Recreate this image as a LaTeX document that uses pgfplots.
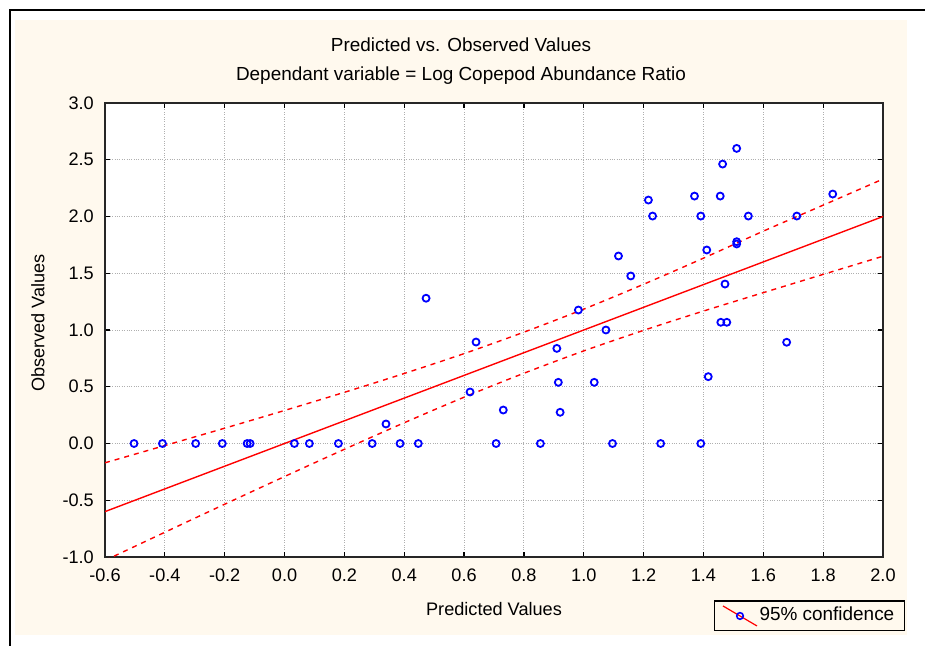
\documentclass[border=0pt]{standalone}
\usepackage{fontspec}
\setmainfont{Liberation Sans}
\usepackage{pgfplots}
\pgfplotsset{compat=1.18}
\definecolor{cream}{RGB}{255,249,238}
\definecolor{gridgray}{RGB}{175,175,175}

\begin{document}
\fontsize{18.2}{22}\selectfont
\begin{tikzpicture}
\path[use as bounding box] (0bp,0bp) rectangle (925bp,-646bp);
\fill[white] (0bp,0bp) rectangle (925bp,-646bp);
\fill[cream] (15bp,-20bp) rectangle (907bp,-635bp);
\draw[line width=2bp] (10bp,-646bp) -- (10bp,-10bp) -- (925bp,-10bp);
\node[font=\fontsize{19}{22}\selectfont] at (461bp,-45bp) {Predicted vs. Observed Values};
\node[font=\fontsize{19}{22}\selectfont] at (461bp,-76bp) {Dependant variable = Log Copepod Abundance Ratio};

\begin{axis}[
  at={(105bp,-557bp)}, anchor=south west,
  scale only axis, width=778bp, height=454bp,
  xmin=-0.6, xmax=2.0, ymin=-1, ymax=3,
  xtick={-0.6,-0.4,-0.2,0,0.2,0.4,0.6,0.8,1.0,1.2,1.4,1.6,1.8,2.0},
  ytick={-1,-0.5,0,0.5,1,1.5,2,2.5,3},
  tick align=inside, tick pos=both, major tick length=5bp,
  grid=major,
  major grid style={gridgray, dotted, line width=0.9bp},
  axis line style={black!85, line width=1.5bp},
  tick style={black, line width=1.2bp},
  axis background/.style={fill=white},
  /pgf/number format/.cd, fixed, fixed zerofill, precision=1, assume math mode=true,
  /pgfplots/.cd,
  xticklabel style={yshift=-6bp},
  yticklabel style={xshift=-5bp},
  xlabel={Predicted Values},
  ylabel={Observed Values},
  xlabel style={at={(axis description cs:0.5,-0.1145)}, anchor=center},
  ylabel style={at={(axis description cs:-0.0861,0.5154)}, anchor=center},
  legend style={at={(1.0283,-0.0947)}, anchor=north east, draw=black, line width=1.5bp,
    fill=cream, inner xsep=8bp, inner ysep=4bp, legend cell align=left,
    font=\fontsize{19}{22}\selectfont},
]
% regression line
\addplot[red, line width=1.4bp, forget plot] coordinates {(-0.6,-0.6) (2.0,2.0)};
% 95% confidence band, upper
\addplot[red, line width=1.4bp, dash pattern=on 5bp off 5bp, smooth, forget plot] coordinates {
(-0.6,-0.170) (-0.4,-0.018) (-0.2,0.135) (0.0,0.291) (0.2,0.451) (0.4,0.617)
(0.6,0.792) (0.8,0.981) (1.0,1.184) (1.2,1.403) (1.4,1.633) (1.6,1.871)
(1.8,2.100) (2.0,2.330)
};
% 95% confidence band, lower
\addplot[red, line width=1.4bp, dash pattern=on 5bp off 5bp, smooth, forget plot] coordinates {
(-0.6,-1.030) (-0.4,-0.782) (-0.2,-0.535) (0.0,-0.291) (0.2,-0.051) (0.4,0.183)
(0.6,0.408) (0.8,0.619) (1.0,0.816) (1.2,0.997) (1.4,1.167) (1.6,1.329)
(1.8,1.490) (2.0,1.650)
};
% observations
\addplot[only marks, mark=o, mark size=3.5bp, blue, mark options={line width=1.8bp, solid},
  legend image code/.code={
    \draw[red, line width=1.2bp] (0bp,9bp) -- (34bp,-11bp);
    \draw[blue, line width=1.6bp] (17bp,-1bp) circle (3.3bp);
  }] coordinates {
(-0.503,0) (-0.408,0) (-0.297,0) (-0.208,0) (-0.125,0) (-0.115,0)
(0.033,0) (0.083,0) (0.180,0) (0.293,0) (0.386,0) (0.447,0)
(0.707,0) (0.855,0) (1.096,0) (1.257,0) (1.391,0)
(0.339,0.172) (0.473,1.280) (0.982,1.176) (0.640,0.894) (1.074,1.000)
(0.910,0.838) (0.620,0.454) (0.915,0.539) (1.035,0.539) (0.731,0.295)
(0.921,0.275) (1.216,2.145) (1.230,2.004) (1.116,1.652) (1.157,1.476)
(1.511,2.600) (1.464,2.462) (1.370,2.180) (1.456,2.180) (1.391,2.004)
(1.550,2.004) (1.712,2.004) (1.832,2.198) (1.511,1.778) (1.511,1.758)
(1.411,1.705) (1.472,1.405) (1.458,1.068) (1.478,1.068) (1.678,0.892)
(1.416,0.589)
};
\addlegendentry{95\% confidence}
\end{axis}
\end{tikzpicture}
\end{document}
